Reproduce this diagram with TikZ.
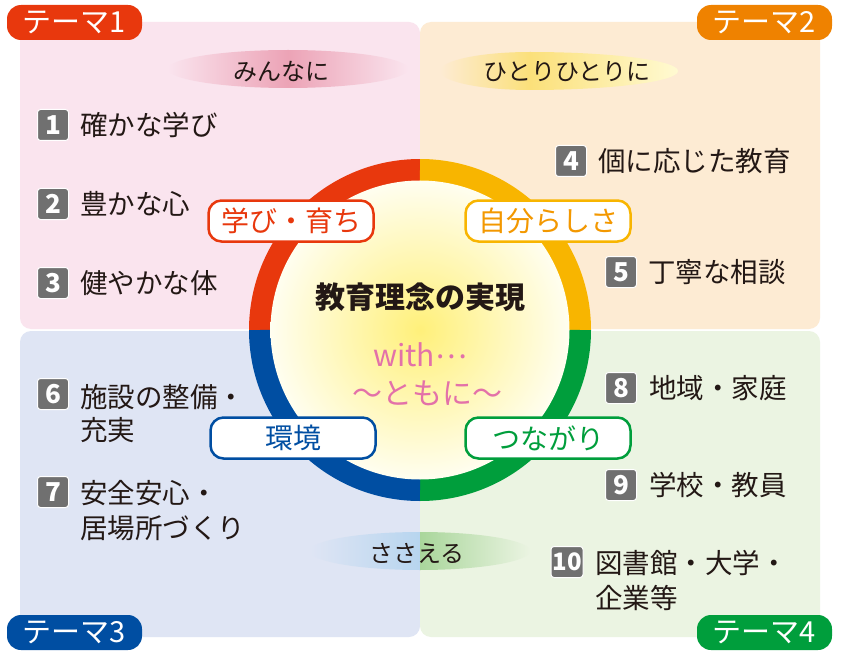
\documentclass[tikz,border=0pt]{standalone}
\usepackage{fontspec}
\setmainfont{Noto Sans CJK JP}
\definecolor{cred}{HTML}{E8380D}
\definecolor{corange}{HTML}{EF8200}
\definecolor{cyellow}{HTML}{F8B500}
\definecolor{cyeltext}{HTML}{F39800}
\definecolor{cblue}{HTML}{004EA2}
\definecolor{cgreen}{HTML}{009E3C}
\definecolor{bgpink}{HTML}{FAE4EE}
\definecolor{bgpeach}{HTML}{FDEBD3}
\definecolor{bgblue}{HTML}{DFE5F4}
\definecolor{bggreen}{HTML}{EBF4E2}
\definecolor{ellpink}{HTML}{ECA3B6}
\definecolor{ellyellow}{HTML}{FBE07A}
\definecolor{ellpale}{HTML}{FFFAD2}
\definecolor{ellblue}{HTML}{B7D5EF}
\definecolor{ellgreen}{HTML}{A9D69B}
\definecolor{diskin}{HTML}{FFF07A}
\definecolor{diskout}{HTML}{FFFEF0}
\definecolor{badgegray}{HTML}{707070}
\definecolor{txt}{HTML}{231815}
\definecolor{withpink}{HTML}{E371A9}
\begin{document}
\begin{tikzpicture}[x=1pt,y=1pt,
  quad/.style={rounded corners=11},
  tab/.style={rounded corners=14, minimum width=135, minimum height=35, inner sep=0pt, text=white, font=\fontsize{29}{29}\selectfont},
  pill/.style={rectangle, rounded corners=13, fill=white, line width=2.5pt, minimum width=165, minimum height=41, inner sep=0pt, font=\fontsize{28}{28}\selectfont},
  badge/.style={fill=badgegray, draw=white, line width=1pt, rounded corners=3, minimum width=31, minimum height=31, inner sep=0pt, text=white, font=\bfseries\fontsize{26}{26}\selectfont},
  item/.style={anchor=west, inner sep=0pt, text=txt, align=left, font=\fontsize{27.5}{34}\selectfont},
  ring/.style={line width=22pt},
  elltext/.style={text=txt, inner sep=0pt, font=\fontsize{24}{24}\selectfont}
]
\useasboundingbox (0,0) rectangle (841,-658);
\fill[white] (0,0) rectangle (841,-658);
% quadrants
\fill[bgpink, quad] (20,-22) rectangle (420,-329);
\fill[bgpeach, quad] (420,-22) rectangle (820,-329);
\fill[bgblue, quad] (20,-331) rectangle (420,-637);
\fill[bggreen, quad] (420,-331) rectangle (820,-637);
% gradient ellipses (each as two halves)
\shade[left color=bgpink, right color=ellpink] (288,-50) arc[start angle=90, end angle=270, x radius=120, y radius=19] -- cycle;
\shade[left color=ellpink, right color=bgpink] (288,-50) arc[start angle=90, end angle=-90, x radius=120, y radius=19] -- cycle;
\shade[left color=bgpeach, right color=ellyellow] (530,-52) arc[start angle=90, end angle=270, x radius=90, y radius=19] -- cycle;
\shade[left color=ellyellow, right color=ellpale] (530,-52) arc[start angle=90, end angle=-90, x radius=148, y radius=19] -- cycle;
\shade[left color=bgblue, right color=ellblue] (420,-532) arc[start angle=90, end angle=270, x radius=110, y radius=19] -- cycle;
\shade[left color=ellgreen, right color=bggreen] (420,-532) arc[start angle=90, end angle=-90, x radius=110, y radius=19] -- cycle;
\node[elltext] (e1) at (281,-72) {みんなに};
\node[elltext] (e2) at (567,-72) {ひとりひとりに};
\node[elltext] (e3) at (417,-553) {ささえる};
% ring
\draw[ring, cred] (420,-330) ++(180:160) arc[start angle=180, end angle=90, radius=160];
\draw[ring, cyellow] (420,-330) ++(90:160) arc[start angle=90, end angle=0, radius=160];
\draw[ring, cgreen] (420,-330) ++(0:160) arc[start angle=0, end angle=-90, radius=160];
\draw[ring, cblue] (420,-330) ++(-90:160) arc[start angle=-90, end angle=-180, radius=160];
\shade[inner color=diskin, outer color=diskout] (420,-330) circle[radius=149.5];
% centre text
\node[text=txt, font=\bfseries\fontsize{30}{30}\selectfont, inner sep=0pt] (title) at (420,-297) {教育理念の実現};
\node[text=withpink, font=\fontsize{30}{30}\selectfont, inner sep=0pt] (with) at (420,-355) {with\raisebox{0.26em}{…}};
\node[text=withpink, font=\fontsize{30}{30}\selectfont, inner sep=0pt] (tomoni) at (427,-393) {～ともに～};
% pills
\node[pill, draw=cred, text=cred] (p1) at (291,-221) {学び・育ち};
\node[pill, draw=cyellow, text=cyeltext] (p2) at (548,-221) {自分らしさ};
\node[pill, draw=cblue, text=cblue] (p3) at (293,-438) {環境};
\node[pill, draw=cgreen, text=cgreen] (p4) at (548,-438) {つながり};
% tabs
\node[tab, fill=cred] (t1) at (74.5,-22.5) {テーマ1};
\node[tab, fill=corange] (t2) at (764.5,-22.5) {テーマ2};
\node[tab, fill=cblue] (t3) at (74.5,-632.5) {テーマ3};
\node[tab, fill=cgreen] (t4) at (764.5,-632.5) {テーマ4};
% items
\node[badge] (b1) at (53,-125) {1};
\node[item] (i1) at (80,-125) {確かな学び};
\node[badge] (b2) at (53,-204) {2};
\node[item] (i2) at (80,-204) {豊かな心};
\node[badge] (b3) at (53,-283) {3};
\node[item] (i3) at (80,-283) {健やかな体};
\node[badge] (b4) at (571,-161) {4};
\node[item] (i4) at (598,-161) {個に応じた教育};
\node[badge] (b5) at (621,-272) {5};
\node[item] (i5) at (648,-272) {丁寧な相談};
\node[badge] (b6) at (53,-394) {6};
\node[item, font=\fontsize{27.5}{33}\selectfont] (i6) at (80,-413.5) {施設の整備・\\充実};
\node[badge] (b7) at (53,-492) {7};
\node[item, font=\fontsize{27.5}{35}\selectfont] (i7) at (80,-510.5) {安全安心・\\居場所づくり};
\node[badge] (b8) at (621,-388) {8};
\node[item] (i8) at (649,-388) {地域・家庭};
\node[badge] (b9) at (621,-485) {9};
\node[item] (i9) at (649,-485) {学校・教員};
\node[badge, minimum width=32, font=\bfseries\fontsize{24}{24}\selectfont] (b10) at (567,-562) {10};
\node[item, font=\fontsize{27.5}{35}\selectfont] (i10) at (595,-580.5) {図書館・大学・\\企業等};
\end{tikzpicture}
\end{document}
